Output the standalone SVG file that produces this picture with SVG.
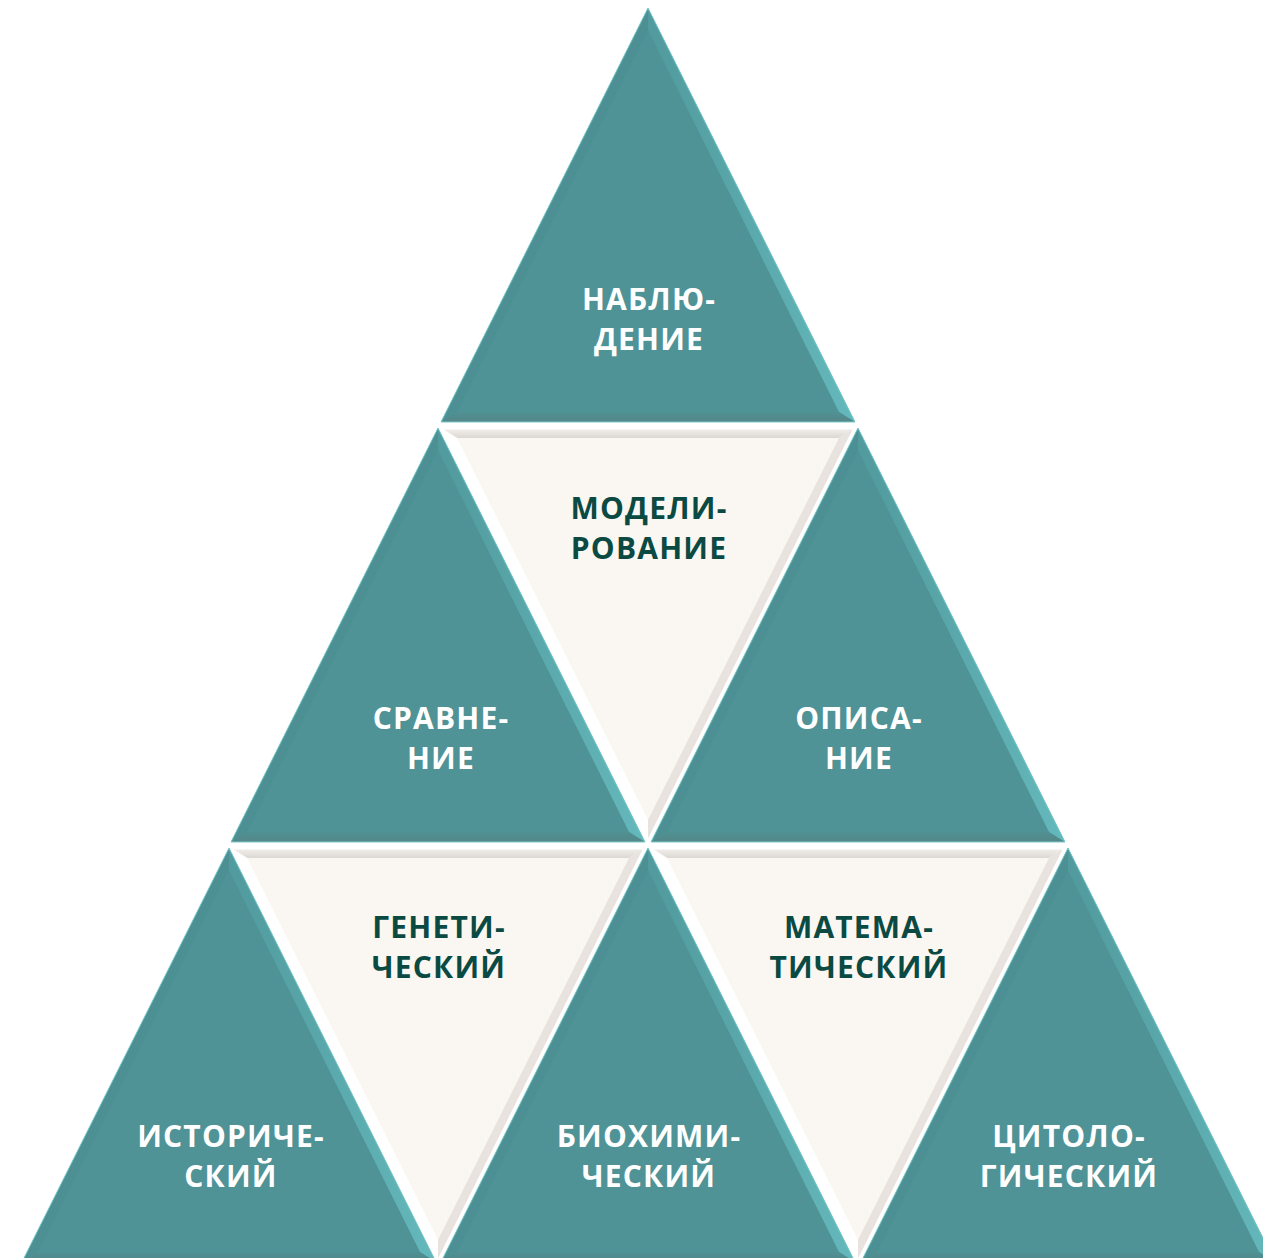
<svg xmlns="http://www.w3.org/2000/svg" xmlns:xlink="http://www.w3.org/1999/xlink" width="1263" height="1258" viewBox="0 0 1263 1258">
<style>
.w{font-family:"Open Sans","Liberation Sans",sans-serif;font-weight:700;font-size:30px;letter-spacing:1.2px;fill:#ffffff;text-anchor:middle}
.d{font-family:"Open Sans","Liberation Sans",sans-serif;font-weight:700;font-size:30px;letter-spacing:1.2px;fill:#0a4a42;text-anchor:middle}
</style>
<defs>
<linearGradient id="gR" x1="0" y1="0" x2="1" y2="0"><stop offset="0" stop-color="#519a9d"/><stop offset="1" stop-color="#64b8bb"/></linearGradient>
<linearGradient id="gB" x1="0" y1="0" x2="0" y2="1"><stop offset="0" stop-color="#4f9194"/><stop offset="1" stop-color="#558687"/></linearGradient>
<linearGradient id="gT" x1="0" y1="0" x2="0" y2="1"><stop offset="0" stop-color="#f4f1ee"/><stop offset="1" stop-color="#dcd7d2"/></linearGradient>
<g id="up">
<polygon points="207,0 414,414 0,414" fill="#4f9397"/>
<polygon points="0,414 207,0 207,22.4 16.2,404" fill="#4d9094"/>
<polygon points="207,0 414,414 397.8,404 207,22.4" fill="url(#gR)"/>
<polygon points="0,414 414,414 397.8,404 16.2,404" fill="url(#gB)"/>
<polygon points="207,22.4 397.8,404 16.2,404" fill="#4f9397"/>
<polygon points="207,0 414,414 0,414" fill="none" stroke="#7ccbcd" stroke-width="1"/>
</g>
<g id="down">
<polygon points="0,0 414,0 207,414" fill="#faf6f2"/>
<polygon points="0,0 414,0 397.8,10 16.2,10" fill="url(#gT)"/>
<polygon points="0,0 16.2,10 207,391.6 207,414" fill="#ffffff"/>
<polygon points="414,0 207,414 207,391.6 397.8,10" fill="#e8e3de"/>
<polygon points="16.2,10 397.8,10 207,391.6" fill="#faf6f2"/>
<polygon points="0,0 414,0 207,414" fill="none" stroke="#ffffff" stroke-width="3"/>
</g>
</defs>
<rect width="1263" height="1258" fill="#ffffff"/>
<g id="connectors"></g>
<g id="node-nablyudenie"><use xlink:href="#up" x="441" y="8"/><text class="w" x="649" y="310">НАБЛЮ-</text><text class="w" x="649" y="350">ДЕНИЕ</text></g>
<g id="node-modelirovanie"><use xlink:href="#down" x="441" y="428"/><text class="d" x="649" y="519">МОДЕЛИ-</text><text class="d" x="649" y="559">РОВАНИЕ</text></g>
<g id="node-sravnenie"><use xlink:href="#up" x="231" y="428"/><text class="w" x="441" y="729">СРАВНЕ-</text><text class="w" x="441" y="769">НИЕ</text></g>
<g id="node-opisanie"><use xlink:href="#up" x="651" y="428"/><text class="w" x="859" y="729">ОПИСА-</text><text class="w" x="859" y="769">НИЕ</text></g>
<g id="node-geneticheskiy"><use xlink:href="#down" x="231" y="848"/><text class="d" x="439" y="938">ГЕНЕТИ-</text><text class="d" x="439" y="978">ЧЕСКИЙ</text></g>
<g id="node-matematicheskiy"><use xlink:href="#down" x="651" y="848"/><text class="d" x="859" y="938">МАТЕМА-</text><text class="d" x="859" y="978">ТИЧЕСКИЙ</text></g>
<g id="node-istoricheskiy"><use xlink:href="#up" x="22" y="848"/><text class="w" x="231" y="1147">ИСТОРИЧЕ-</text><text class="w" x="231" y="1187">СКИЙ</text></g>
<g id="node-biokhimicheskiy"><use xlink:href="#up" x="441" y="848"/><text class="w" x="649" y="1147">БИОХИМИ-</text><text class="w" x="649" y="1187">ЧЕСКИЙ</text></g>
<g id="node-tsitologicheskiy"><use xlink:href="#up" x="861" y="848"/><text class="w" x="1069" y="1147">ЦИТОЛО-</text><text class="w" x="1069" y="1187">ГИЧЕСКИЙ</text></g>
</svg>
